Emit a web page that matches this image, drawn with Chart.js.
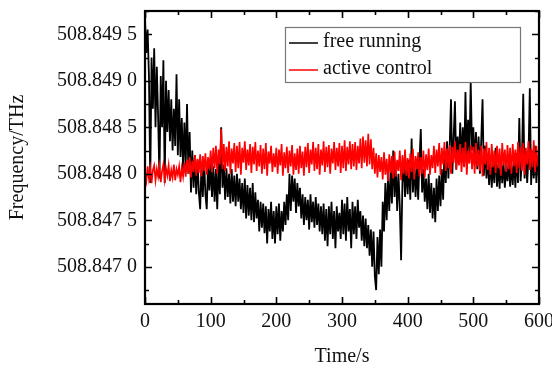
<!DOCTYPE html>
<html><head><meta charset="utf-8">
<script src="https://cdn.jsdelivr.net/npm/chart.js@4/dist/chart.umd.min.js"></script>
<style>html,body{margin:0;padding:0;background:#fff}#wrap{width:552px;height:374px;position:relative}</style>
</head><body><div id="wrap"><canvas id="c"></canvas></div>
<script>
// Sampling interval of the traces (s)
const sampleInterval = 2;

// Free running laser frequency (THz), one value every 2 s from 0 to 600 s
const freeRunning = [
508.84966,508.84930,508.84955,508.84905,508.84790,508.84925,508.84870,508.84935,508.84850,508.84915,
508.84860,508.84795,508.84905,508.84850,508.84922,508.84790,508.84900,508.84845,508.84890,508.84835,
508.84880,508.84825,508.84870,508.84830,508.84907,508.84820,508.84880,508.84818,508.84860,508.84805,
508.84855,508.84808,508.84875,508.84800,508.84845,508.84780,508.84825,508.84785,508.84820,508.84778,
508.84815,508.84780,508.84762,508.84810,508.84775,508.84815,508.84778,508.84762,508.84810,508.84782,
508.84812,508.84775,508.84808,508.84770,508.84805,508.84762,508.84812,508.84778,508.84850,508.84785,
508.84810,508.84772,508.84806,508.84775,508.84800,508.84768,508.84805,508.84770,508.84798,508.84765,
508.84800,508.84770,508.84795,508.84762,508.84790,508.84758,508.84795,508.84752,508.84788,508.84755,
508.84785,508.84750,508.84790,508.84748,508.84780,508.84752,508.84772,508.84738,508.84770,508.84742,
508.84768,508.84736,508.84765,508.84725,508.84762,508.84738,508.84770,508.84730,508.84760,508.84725,
508.84765,508.84735,508.84768,508.84728,508.84760,508.84738,508.84770,508.84745,508.84778,508.84750,
508.84800,508.84760,508.84798,508.84770,508.84795,508.84758,508.84790,508.84765,508.84785,508.84752,
508.84778,508.84745,508.84775,508.84750,508.84772,508.84740,508.84778,508.84748,508.84770,508.84742,
508.84775,508.84745,508.84768,508.84738,508.84765,508.84735,508.84768,508.84728,508.84762,508.84722,
508.84765,508.84735,508.84770,508.84730,508.84760,508.84720,508.84765,508.84738,508.84758,508.84730,
508.84772,508.84735,508.84768,508.84728,508.84775,508.84738,508.84762,508.84720,508.84770,508.84735,
508.84765,508.84730,508.84772,508.84742,508.84760,508.84728,508.84755,508.84722,508.84752,508.84720,
508.84745,508.84712,508.84740,508.84700,508.84738,508.84690,508.84675,508.84732,508.84692,508.84740,
508.84700,508.84770,508.84738,508.84790,508.84750,508.84795,508.84760,508.84805,508.84768,508.84825,
508.84775,508.84810,508.84760,508.84800,508.84765,508.84707,508.84790,508.84812,508.84775,508.84810,
508.84778,508.84815,508.84772,508.84838,508.84780,508.84812,508.84775,508.84808,508.84772,508.84815,
508.84848,508.84780,508.84805,508.84770,508.84795,508.84762,508.84800,508.84758,508.84790,508.84752,
508.84785,508.84748,508.84795,508.84760,508.84798,508.84765,508.84805,508.84772,508.84825,508.84790,
508.84835,508.84795,508.84830,508.84880,508.84800,508.84838,508.84878,508.84805,508.84840,508.84810,
508.84855,508.84812,508.84850,508.84808,508.84888,508.84815,508.84858,508.84820,508.84899,508.84825,
508.84850,508.84810,508.84845,508.84805,508.84840,508.84800,508.84835,508.84880,508.84798,508.84830,
508.84795,508.84818,508.84788,508.84815,508.84785,508.84812,508.84790,508.84828,508.84786,508.84810,
508.84784,508.84815,508.84790,508.84812,508.84785,508.84808,508.84792,508.84816,508.84786,508.84810,
508.84788,508.84818,508.84785,508.84822,508.84790,508.84860,508.84792,508.84815,508.84886,508.84795,
508.84820,508.84790,508.84818,508.84892,508.84788,508.84825,508.84795,508.84830,508.84790,508.84820,
508.84798
];

// Actively controlled laser frequency (THz), one value every 2 s from 0 to 600 s
const activeControl = [
508.84800,508.84792,508.84808,508.84795,508.84806,508.84790,508.84804,508.84809,508.84793,508.84805,
508.84797,508.84808,508.84791,508.84803,508.84810,508.84794,508.84806,508.84798,508.84809,508.84792,
508.84804,508.84796,508.84810,508.84793,508.84805,508.84799,508.84808,508.84791,508.84806,508.84797,
508.84812,508.84797,508.84815,508.84800,508.84818,508.84796,508.84814,508.84802,508.84820,508.84798,
508.84816,508.84801,508.84821,508.84797,508.84819,508.84803,508.84822,508.84799,508.84818,508.84805,
508.84825,508.84802,508.84828,508.84806,508.84830,508.84800,508.84826,508.84810,508.84848,508.84805,
508.84832,508.84803,508.84829,508.84808,508.84835,508.84800,508.84827,508.84811,508.84833,508.84802,
508.84830,508.84806,508.84834,508.84799,508.84828,508.84812,508.84835,508.84804,508.84826,508.84809,
508.84832,508.84801,508.84829,508.84810,508.84834,508.84803,508.84825,508.84808,508.84831,508.84800,
508.84827,508.84805,508.84833,508.84798,508.84824,508.84811,508.84830,508.84802,508.84822,508.84807,
508.84828,508.84800,508.84826,508.84809,508.84832,508.84798,508.84823,508.84806,508.84829,508.84801,
508.84825,508.84808,508.84831,508.84799,508.84822,508.84804,508.84827,508.84800,508.84830,508.84806,
508.84824,508.84798,508.84829,508.84807,508.84833,508.84801,508.84826,508.84810,508.84834,508.84803,
508.84828,508.84805,508.84832,508.84799,508.84826,508.84809,508.84835,508.84802,508.84829,508.84807,
508.84831,508.84800,508.84827,508.84811,508.84834,508.84804,508.84828,508.84808,508.84833,508.84801,
508.84830,508.84806,508.84836,508.84803,508.84829,508.84810,508.84835,508.84805,508.84832,508.84808,
508.84834,508.84804,508.84830,508.84811,508.84838,508.84806,508.84840,508.84812,508.84836,508.84808,
508.84843,508.84810,508.84837,508.84805,508.84828,508.84800,508.84822,508.84796,508.84820,508.84802,
508.84818,508.84794,508.84823,508.84799,508.84816,508.84792,508.84821,508.84801,508.84819,508.84795,
508.84824,508.84797,508.84815,508.84803,508.84825,508.84793,508.84820,508.84800,508.84826,508.84798,
508.84817,508.84795,508.84822,508.84802,508.84827,508.84794,508.84819,508.84805,508.84823,508.84797,
508.84818,508.84800,508.84825,508.84796,508.84821,508.84804,508.84827,508.84799,508.84820,508.84806,
508.84830,508.84801,508.84826,508.84808,508.84833,508.84799,508.84828,508.84810,508.84834,508.84803,
508.84827,508.84806,508.84831,508.84800,508.84829,508.84812,508.84835,508.84804,508.84826,508.84809,
508.84832,508.84802,508.84828,508.84807,508.84834,508.84799,508.84825,508.84811,508.84831,508.84805,
508.84829,508.84800,508.84833,508.84808,508.84826,508.84803,508.84830,508.84797,508.84827,508.84810,
508.84834,508.84804,508.84828,508.84799,508.84832,508.84807,508.84825,508.84801,508.84830,508.84806,
508.84827,508.84798,508.84833,508.84809,508.84826,508.84802,508.84831,508.84805,508.84828,508.84800,
508.84832,508.84808,508.84826,508.84801,508.84834,508.84806,508.84829,508.84803,508.84833,508.84799,
508.84828,508.84810,508.84835,508.84804,508.84827,508.84807,508.84836,508.84802,508.84830,508.84808,
508.84822
];

const seriesLabels = ['free running', 'active control'];
const seriesColors = ['#000000', '#ff0000'];
const xTicks = [0, 100, 200, 300, 400, 500, 600];
const yTicks = [508.8470, 508.8475, 508.8480, 508.8485, 508.8490, 508.8495];

const toPoints = arr => arr.map((v, i) => ({x: i * sampleInterval, y: v}));
const fmtY = v => { const s = v.toFixed(4); return s.slice(0, -1) + ' ' + s.slice(-1); };
const FONT = "'Liberation Serif', 'Times New Roman', serif";

function minorOf(major, lo, hi) {
  const out = [];
  const step = major[1] - major[0];
  const first = major[0] - step / 2;
  for (let k = 0; ; k++) {
    const v = first + k * step;
    if (v > hi + 1e-12) break;
    if (v >= lo - 1e-12) out.push(v);
  }
  return out;
}

const framePlugin = {
  id: 'frame',
  afterDatasetsDraw(chart) {
    const {ctx, chartArea: a, scales: {x, y}} = chart;
    ctx.save();
    ctx.strokeStyle = '#000';
    ctx.lineWidth = 1.6;
    ctx.beginPath();
    const xm = minorOf(xTicks, x.min, x.max);
    const ym = minorOf(yTicks, y.min, y.max);
    const drawX = (v, len) => {
      const p = Math.round(x.getPixelForValue(v)) + 0.5;
      ctx.moveTo(p, a.bottom); ctx.lineTo(p, a.bottom - len);
      ctx.moveTo(p, a.top); ctx.lineTo(p, a.top + len);
    };
    const drawY = (v, len) => {
      const p = Math.round(y.getPixelForValue(v)) + 0.5;
      ctx.moveTo(a.left, p); ctx.lineTo(a.left + len, p);
      ctx.moveTo(a.right, p); ctx.lineTo(a.right - len, p);
    };
    xTicks.forEach(v => drawX(v, 7));
    xm.forEach(v => drawX(v, 4));
    yTicks.forEach(v => drawY(v, 7));
    ym.forEach(v => drawY(v, 4));
    ctx.stroke();
    ctx.lineWidth = 2.2;
    ctx.strokeRect(a.left, a.top, a.right - a.left, a.bottom - a.top);

    // legend
    const bx = 285, by = 27, bw = 235, bh = 55;
    ctx.fillStyle = '#fff';
    ctx.fillRect(bx, by, bw, bh);
    ctx.lineWidth = 1.2;
    ctx.strokeStyle = '#777';
    ctx.strokeRect(bx + 0.5, by + 0.5, bw, bh);
    ctx.font = '20px ' + FONT;
    ctx.textBaseline = 'middle';
    ctx.textAlign = 'left';
    chart.data.datasets.forEach((ds, i) => {
      const cy = by + 15 + i * 27;
      ctx.strokeStyle = ds.borderColor;
      ctx.lineWidth = 1.5;
      ctx.beginPath();
      ctx.moveTo(bx + 4, cy + 1); ctx.lineTo(bx + 33, cy + 1);
      ctx.stroke();
      ctx.fillStyle = '#111';
      ctx.fillText(ds.label, bx + 38, cy);
    });
    ctx.restore();
  }
};

new Chart(document.getElementById('c'), {
  type: 'line',
  data: {
    datasets: [
      {label: seriesLabels[0], data: toPoints(freeRunning), borderColor: seriesColors[0], borderWidth: 1.8, pointRadius: 0, tension: 0, order: 2},
      {label: seriesLabels[1], data: toPoints(activeControl), borderColor: seriesColors[1], borderWidth: 1.7, pointRadius: 0, tension: 0, order: 1}
    ]
  },
  options: {
    responsive: true,
    maintainAspectRatio: false,
    animation: false,
    layout: {padding: {left: 0, top: 11, right: 13, bottom: 0}},
    plugins: {legend: {display: false}, tooltip: {enabled: false}},
    scales: {
      x: {
        type: 'linear', min: 0, max: 600,
        afterBuildTicks: s => { s.ticks = xTicks.map(v => ({value: v})); },
        afterFit: s => { s.height = 70; s.paddingLeft = 0; s.paddingRight = 0; },
        grid: {display: true, drawOnChartArea: false, drawTicks: false},
        border: {display: false},
        ticks: {color: '#111', font: {family: FONT, size: 20}, padding: 6, maxRotation: 0, autoSkip: false},
        title: {display: true, text: 'Time/s', color: '#111', font: {family: FONT, size: 20}, padding: {top: 0, bottom: 5}}
      },
      y: {
        type: 'linear', min: 508.8466, max: 508.84975,
        afterBuildTicks: s => { s.ticks = yTicks.map(v => ({value: v})); },
        afterFit: s => { s.width = 145; s.paddingTop = 0; s.paddingBottom = 0; },
        grid: {display: true, drawOnChartArea: false, drawTicks: false},
        border: {display: false},
        ticks: {color: '#111', font: {family: FONT, size: 20}, padding: 8, callback: v => fmtY(v)},
        title: {display: true, text: 'Frequency/THz', color: '#111', font: {family: FONT, size: 20}, padding: {top: 6, bottom: 0}}
      }
    }
  },
  plugins: [framePlugin]
});
</script>
</body></html>
